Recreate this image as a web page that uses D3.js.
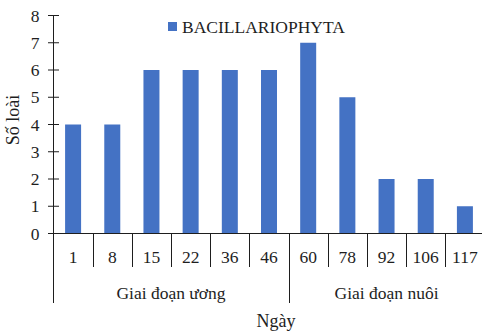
<!DOCTYPE html>
<html>
<head>
<meta charset="utf-8">
<script src="https://cdn.jsdelivr.net/npm/d3@7/dist/d3.min.js"></script>
<style>
  html, body { margin: 0; padding: 0; background: #fff; }
  svg { display: block; font-family: "Liberation Serif", "Times New Roman", serif; }
</style>
</head>
<body>
<svg id="chart" width="482" height="334"></svg>
<script>
// Species count of Bacillariophyta by sampling day
const days = ["1", "8", "15", "22", "36", "46", "60", "78", "92", "106", "117"];
const speciesCount = [4, 4, 6, 6, 6, 6, 7, 5, 2, 2, 1];
const stages = [
  { name: "Giai đoạn ương", from: "1", to: "46" },
  { name: "Giai đoạn nuôi", from: "60", to: "117" }
];
const yTicks = [0, 1, 2, 3, 4, 5, 6, 7, 8];
const seriesName = "BACILLARIOPHYTA";

const svg = d3.select("#chart");
const ink = "#1e1e1e";
const barColor = "#4472C4";
const fs = 17.5;

const plotLeft = 53.5, plotRight = 484.5, plotTop = 15.5, plotBase = 233.5;

const x = d3.scaleBand().domain(days).range([plotLeft, plotRight]).padding(0);
const y = d3.scaleLinear().domain([0, 8]).range([plotBase, plotTop]);
const barW = 16;

// Bars
svg.append("g").selectAll("rect")
  .data(days.map((d, i) => ({ day: d, v: speciesCount[i] })))
  .join("rect")
  .attr("x", d => x(d.day) + (x.bandwidth() - barW) / 2)
  .attr("y", d => y(d.v))
  .attr("width", barW)
  .attr("height", d => y(0) - y(d.v))
  .attr("fill", barColor);

// Y axis with ticks crossing the line
const yAxis = svg.append("g");
yAxis.append("line")
  .attr("x1", plotLeft).attr("x2", plotLeft)
  .attr("y1", y(8)).attr("y2", 303)
  .attr("stroke", ink).attr("stroke-width", 1);
yAxis.selectAll("line.tick")
  .data(yTicks).join("line")
  .attr("class", "tick")
  .attr("x1", plotLeft - 5.5).attr("x2", plotLeft + 5.5)
  .attr("y1", d => y(d)).attr("y2", d => y(d))
  .attr("stroke", ink);
yAxis.selectAll("text")
  .data(yTicks).join("text")
  .attr("x", 39.5).attr("y", d => y(d))
  .attr("dy", "0.35em")
  .attr("text-anchor", "end")
  .attr("font-size", fs)
  .attr("fill", ink)
  .text(d => d);

// X axis line and category separators
const xAxis = svg.append("g");
xAxis.append("line")
  .attr("x1", plotLeft).attr("x2", 482)
  .attr("y1", plotBase).attr("y2", plotBase)
  .attr("stroke", ink);
const stageStarts = new Set(stages.map(s => s.from));
xAxis.selectAll("line.sep")
  .data(days.slice(1)).join("line")
  .attr("class", "sep")
  .attr("x1", d => Math.round(x(d)) + 0.5).attr("x2", d => Math.round(x(d)) + 0.5)
  .attr("y1", plotBase).attr("y2", d => stageStarts.has(d) ? 303 : 267)
  .attr("stroke", ink);
xAxis.selectAll("text.day")
  .data(days).join("text")
  .attr("class", "day")
  .attr("x", d => x(d) + x.bandwidth() / 2)
  .attr("y", 262.5)
  .attr("text-anchor", "middle")
  .attr("font-size", fs)
  .attr("fill", ink)
  .text(d => d);

// Stage labels
xAxis.selectAll("text.stage")
  .data(stages).join("text")
  .attr("class", "stage")
  .attr("x", s => (x(s.from) + x(s.to) + x.bandwidth()) / 2)
  .attr("y", 299)
  .attr("text-anchor", "middle")
  .attr("font-size", fs)
  .attr("fill", ink)
  .text(s => s.name);

// Axis titles
svg.append("text")
  .attr("x", 276).attr("y", 327)
  .attr("text-anchor", "middle")
  .attr("font-size", 18)
  .attr("fill", ink)
  .text("Ngày");
svg.append("text")
  .attr("transform", "translate(19,120) rotate(-90)")
  .attr("text-anchor", "middle")
  .attr("font-size", 18)
  .attr("fill", ink)
  .text("Số loài");

// Legend
const legend = svg.append("g");
legend.append("rect")
  .attr("x", 168).attr("y", 22).attr("width", 9).attr("height", 9)
  .attr("fill", barColor);
legend.append("text")
  .attr("x", 182).attr("y", 33)
  .attr("font-size", fs)
  .attr("fill", ink)
  .text(seriesName);
</script>
</body>
</html>
